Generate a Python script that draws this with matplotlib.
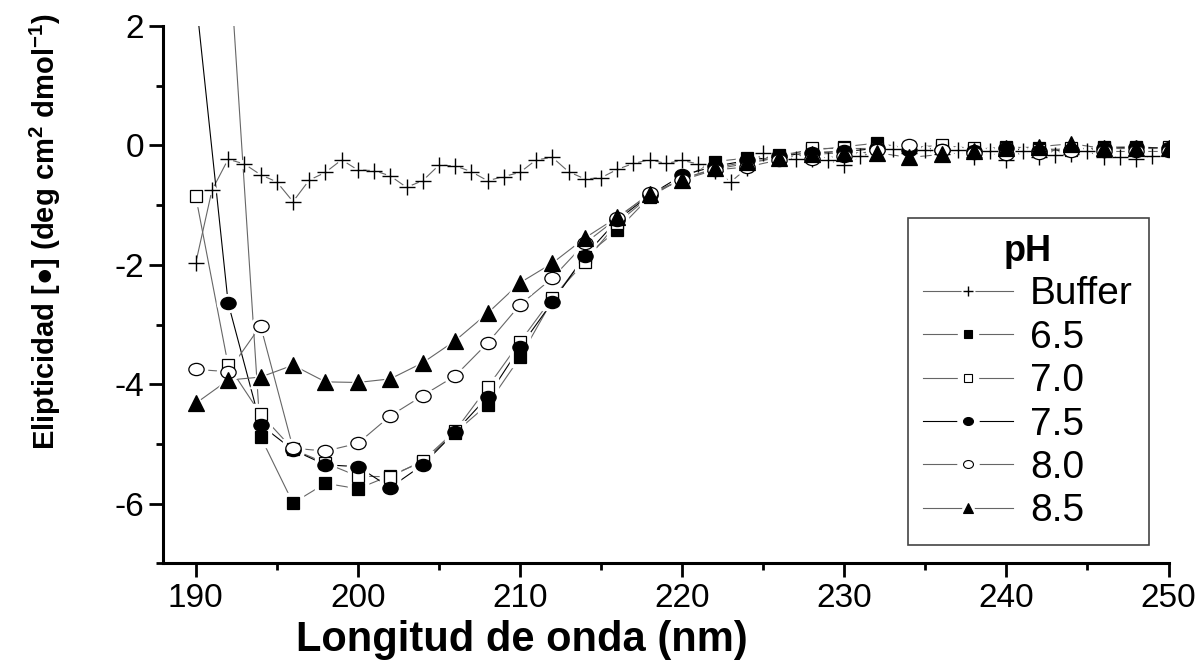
import matplotlib
matplotlib.use('Agg')
import matplotlib.pyplot as plt
import numpy as np
from matplotlib.lines import Line2D
from matplotlib.path import Path
from matplotlib.ticker import MultipleLocator

plt.rcParams['font.family'] = ['Liberation Sans', 'DejaVu Sans']
plt.rcParams['mathtext.fontset'] = 'custom'
plt.rcParams['mathtext.rm'] = 'Liberation Sans'
plt.rcParams['mathtext.bf'] = 'Liberation Sans:bold'
plt.rcParams['axes.unicode_minus'] = False

# buffer measured every 1 nm, samples every 2 nm
wl_buffer = np.arange(190, 250)
buffer = [-1.97, -0.75, -0.23, -0.31, -0.49, -0.61, -0.94, -0.58, -0.45, -0.24,
          -0.41, -0.42, -0.51, -0.70, -0.59, -0.33, -0.34, -0.44, -0.59, -0.52,
          -0.45, -0.24, -0.20, -0.44, -0.56, -0.54, -0.40, -0.30, -0.24, -0.30,
          -0.25, -0.31, -0.42, -0.61, -0.38, -0.13, -0.20, -0.23, -0.22, -0.25,
          -0.33, -0.18, -0.10, -0.06, -0.12, -0.08, -0.15, -0.08, -0.20, -0.10,
          -0.24, -0.10, -0.20, -0.16, -0.15, -0.10, -0.20, -0.19, -0.22, -0.18]

wl = np.arange(190, 251, 2)
ph65 = [5.0, 3.5, -4.88, -5.99, -5.66, -5.75, -5.53, -5.30, -4.81, -4.34,
        -3.55, -2.59, -1.86, -1.42, -0.86, -0.55, -0.27, -0.21, -0.16, -0.08,
        -0.02, 0.04, -0.05, -0.05, -0.07, -0.02, -0.05, -0.08, -0.03, -0.02, -0.05]
ph70 = [-0.85, -3.68, -4.50, -5.09, -5.32, -5.54, -5.55, -5.28, -4.78, -4.05,
        -3.29, -2.55, -1.95, -1.30, -0.85, -0.55, -0.40, -0.30, -0.20, -0.05,
        -0.05, -0.05, -0.03, 0.00, -0.05, -0.05, -0.08, -0.05, -0.05, -0.05, -0.03]
ph75 = [2.5, -2.64, -4.68, -5.10, -5.35, -5.38, -5.73, -5.35, -4.80, -4.21,
        -3.38, -2.62, -1.85, -1.25, -0.83, -0.50, -0.35, -0.25, -0.18, -0.12,
        -0.10, -0.05, -0.08, -0.08, -0.10, -0.05, -0.10, -0.08, -0.05, -0.03, -0.05]
ph80 = [-3.75, -3.79, -3.02, -5.07, -5.12, -4.99, -4.53, -4.19, -3.86, -3.31,
        -2.67, -2.22, -1.64, -1.22, -0.80, -0.58, -0.41, -0.36, -0.24, -0.22,
        -0.18, -0.08, 0.00, -0.08, -0.12, -0.15, -0.12, -0.10, -0.10, -0.10, -0.10]
ph85 = [-4.32, -3.93, -3.88, -3.68, -3.96, -3.97, -3.91, -3.64, -3.27, -2.81,
        -2.30, -1.97, -1.55, -1.20, -0.82, -0.57, -0.38, -0.27, -0.21, -0.15,
        -0.12, -0.12, -0.20, -0.15, -0.10, -0.05, -0.02, 0.03, -0.05, -0.05, -0.05]

labels = ['Buffer', '6.5', '7.0', '7.5', '8.0', '8.5']
xticks = [190, 200, 210, 220, 230, 240, 250]
yticks = [-6, -4, -2, 0, 2]

circ = Path.unit_circle()
oval = Path(circ.vertices * np.array([1.25, 1.0]), circ.codes)

grey = '#666666'
# (x, y, line colour, marker, size, face colour)
series = [
    (wl_buffer, buffer, grey, '+', 11, 'black'),
    (wl, ph65, grey, 's', 9, 'black'),
    (wl, ph70, grey, 's', 9, 'white'),
    (wl, ph75, 'black', oval, 11, 'black'),
    (wl, ph80, grey, oval, 11, 'white'),
    (wl, ph85, grey, '^', 11, 'black'),
]

fig = plt.figure(figsize=(11.99, 6.68), dpi=100)
ax = fig.add_axes([0.1362, 0.1567, 0.8384, 0.8042])

handles = []
for (x, y, lc, m, ms, fc), lab in zip(series, labels):
    ax.plot(x, y, color=lc, lw=0.8, zorder=1)
    if m == '+':
        # white halo leaves a small gap in the line round each marker
        ax.plot(x, y, ls='none', marker='o', ms=6, mfc='white', mec='white', zorder=2)
        ax.plot(x, y, ls='none', marker='+', ms=ms, mew=1, mec='black', zorder=3)
        h = (Line2D([], [], color=lc, lw=0.8),
             Line2D([], [], ls='none', marker='o', ms=9, mfc='white', mec='white'),
             Line2D([], [], ls='none', marker='+', ms=7, mew=1, mec='black'))
    else:
        ax.plot(x, y, ls='none', marker=m, ms=ms + 5, mfc='white', mec='white', zorder=2)
        ax.plot(x, y, ls='none', marker=m, ms=ms, mfc=fc, mec='black', mew=0.9, zorder=3)
        h = (Line2D([], [], color=lc, lw=0.8),
             Line2D([], [], ls='none', marker=m, ms=ms * 0.65 + 8, mfc='white', mec='white'),
             Line2D([], [], ls='none', marker=m, ms=ms * 0.65, mfc=fc, mec='black', mew=0.8))
    handles.append(h)

ax.set_xlim(188, 250)
ax.set_ylim(-7, 2)
ax.set_xticks(xticks)
ax.set_yticks(yticks)
ax.xaxis.set_minor_locator(MultipleLocator(5))
ax.yaxis.set_minor_locator(MultipleLocator(1))
ax.tick_params(which='major', length=10, width=2, labelsize=24, pad=4)
ax.tick_params(which='minor', length=5, width=2)
for s in ['top', 'right']:
    ax.spines[s].set_visible(False)
for s in ['left', 'bottom']:
    ax.spines[s].set_linewidth(2.2)

ax.set_xlabel('Longitud de onda (nm)', fontsize=30, fontweight='bold')
ax.xaxis.set_label_coords(0.357, -0.105)
ax.set_ylabel(r'Elipticidad [●] (deg cm$^{\mathbf{2}}$ dmol$^{\mathbf{-1}}$)',
              fontsize=21, fontweight='bold')
ax.yaxis.set_label_coords(-0.1, 0.617)

leg = ax.legend(handles, labels, title='pH', loc='upper left',
                bbox_to_anchor=(0.757, 0.673), bbox_transform=fig.transFigure,
                borderaxespad=0, fontsize=28,
                title_fontproperties={'weight': 'bold', 'size': 26},
                fancybox=False, framealpha=1, edgecolor='#444444',
                handlelength=2.3, handletextpad=0.45, labelspacing=0.19,
                borderpad=0.4)
leg.get_frame().set_linewidth(1.2)

fig.savefig('out.png', dpi=100)
